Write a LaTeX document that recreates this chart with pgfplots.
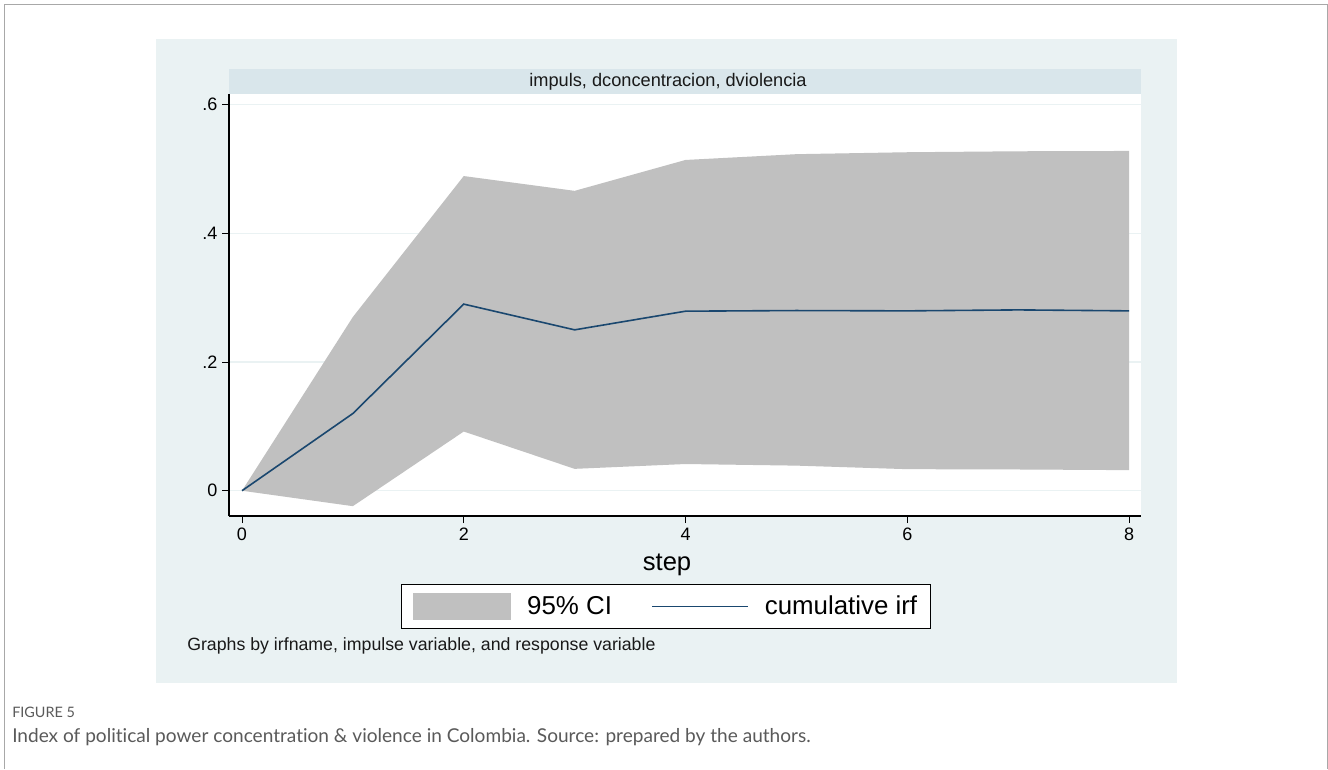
\documentclass[border=0pt]{standalone}
\usepackage{fontspec}
\setmainfont{Liberation Sans}
\newfontfamily\capfont[Ligatures={NoCommon,NoRare}]{Lato}
\usepackage{pgfplots}
\usepackage{pgfplotstable}
\pgfplotsset{compat=1.18}
\definecolor{stbg}{HTML}{EAF2F3}
\definecolor{ststrip}{HTML}{D9E6EB}
\definecolor{cigray}{HTML}{C0C0C0}
\definecolor{stnavy}{HTML}{1A476F}
\definecolor{framegray}{HTML}{A8A8A8}
\definecolor{capgray}{HTML}{5A5A5A}

% cumulative irf
\pgfplotstableread{
step irf
0 0
1 0.120
2 0.290
3 0.250
4 0.279
5 0.280
6 0.2795
7 0.281
8 0.2795
}\irfdata

% 95% CI band: upper bound (steps 0..8) then lower bound (steps 8..0)
\pgfplotstableread{
step bound
0 0
1 0.270
2 0.489
3 0.466
4 0.514
5 0.523
6 0.526
7 0.5275
8 0.528
8 0.032
7 0.033
6 0.0335
5 0.039
4 0.0415
3 0.034
2 0.092
1 -0.024
0 0
}\cidata

\begin{document}
\begin{tikzpicture}
\begin{scope}[x=0.75pt,y=-0.75pt]
\useasboundingbox (0,0) rectangle (1328,769);
\fill[white] (0,0) rectangle (1328,769);
\draw[framegray, line width=0.9pt] (4.5,769) -- (4.5,4.5) -- (1327.3,4.5) -- (1327.3,769);
\fill[stbg] (156,39) rectangle (1177,683);
\fill[ststrip] (229,69) rectangle (1141,94);
\node[font=\fontsize{13.65}{16}\selectfont, text=black!90, inner sep=0pt] at (668,82) {impuls, dconcentracion, dviolencia};
\node[anchor=west, font=\fontsize{13.3}{16}\selectfont, text=black!90, inner sep=0pt] at (187,646) {Graphs by irfname, impulse variable, and response variable};
\node[anchor=west, inner sep=0pt, font=\capfont\fontsize{10.8}{12}\selectfont, text=capgray] at (12,712) {FIGURE 5};
\node[anchor=west, inner sep=0pt, font=\capfont\fontsize{14.3}{16}\selectfont, text=capgray] at (12,737) {Index of political power concentration \& violence in Colombia. Source: prepared by the authors.};
\end{scope}

\begin{axis}[
  at={(171.75pt,-387pt)}, anchor=south west,
  scale only axis, width=684pt, height=316.5pt,
  xmin=-0.1172, xmax=8.108, ymin=-0.0393, ymax=0.6165,
  axis x line*=bottom, axis y line*=left,
  axis line style={black, line width=0.8pt, -},
  xtick={0,2,4,6,8}, ytick={0,0.2,0.4,0.6}, yticklabels={0,.2,.4,.6},
  tick align=outside, major tick length=5.25pt,
  tick style={black, line width=0.6pt},
  ymajorgrids, major grid style={stbg, line width=1pt},
  axis background/.style={fill=white},
  ticklabel style={font=\fontsize{13.5}{16}\selectfont},
  /pgf/number format/assume math mode=true,
  xlabel={step},
  xlabel style={at={(axis description cs:0.4803,-0.1161)}, anchor=center, font=\fontsize{19.2}{22}\selectfont, inner sep=0pt},
  legend columns=2,
  legend style={at={(0.4792,-0.1611)}, anchor=north, draw=black, line width=0.75pt, fill=white,
    inner xsep=8.5pt, inner ysep=6.4pt,
    nodes={inner sep=0pt, font=\fontsize{19.4}{22}\selectfont},
    /tikz/every odd column/.append style={column sep=12pt},
    /tikz/every even column/.append style={column sep=30.75pt}},
]
\addplot[fill=cigray, draw=none,
  legend image code/.code={\fill[cigray] (0pt,-10.1pt) rectangle (73.5pt,10.1pt);}]
  table[x=step,y=bound]{\cidata} -- cycle;
\addlegendentry{\makebox[62.25pt][l]{95\% CI}}
\addplot[stnavy, line width=1.2pt,
  legend image code/.code={\draw[stnavy, line width=1.2pt] (0pt,0pt) -- (72pt,0pt);}]
  table[x=step,y=irf]{\irfdata};
\addlegendentry{\makebox[115.5pt][l]{cumulative irf}}
\end{axis}
\end{tikzpicture}
\end{document}
